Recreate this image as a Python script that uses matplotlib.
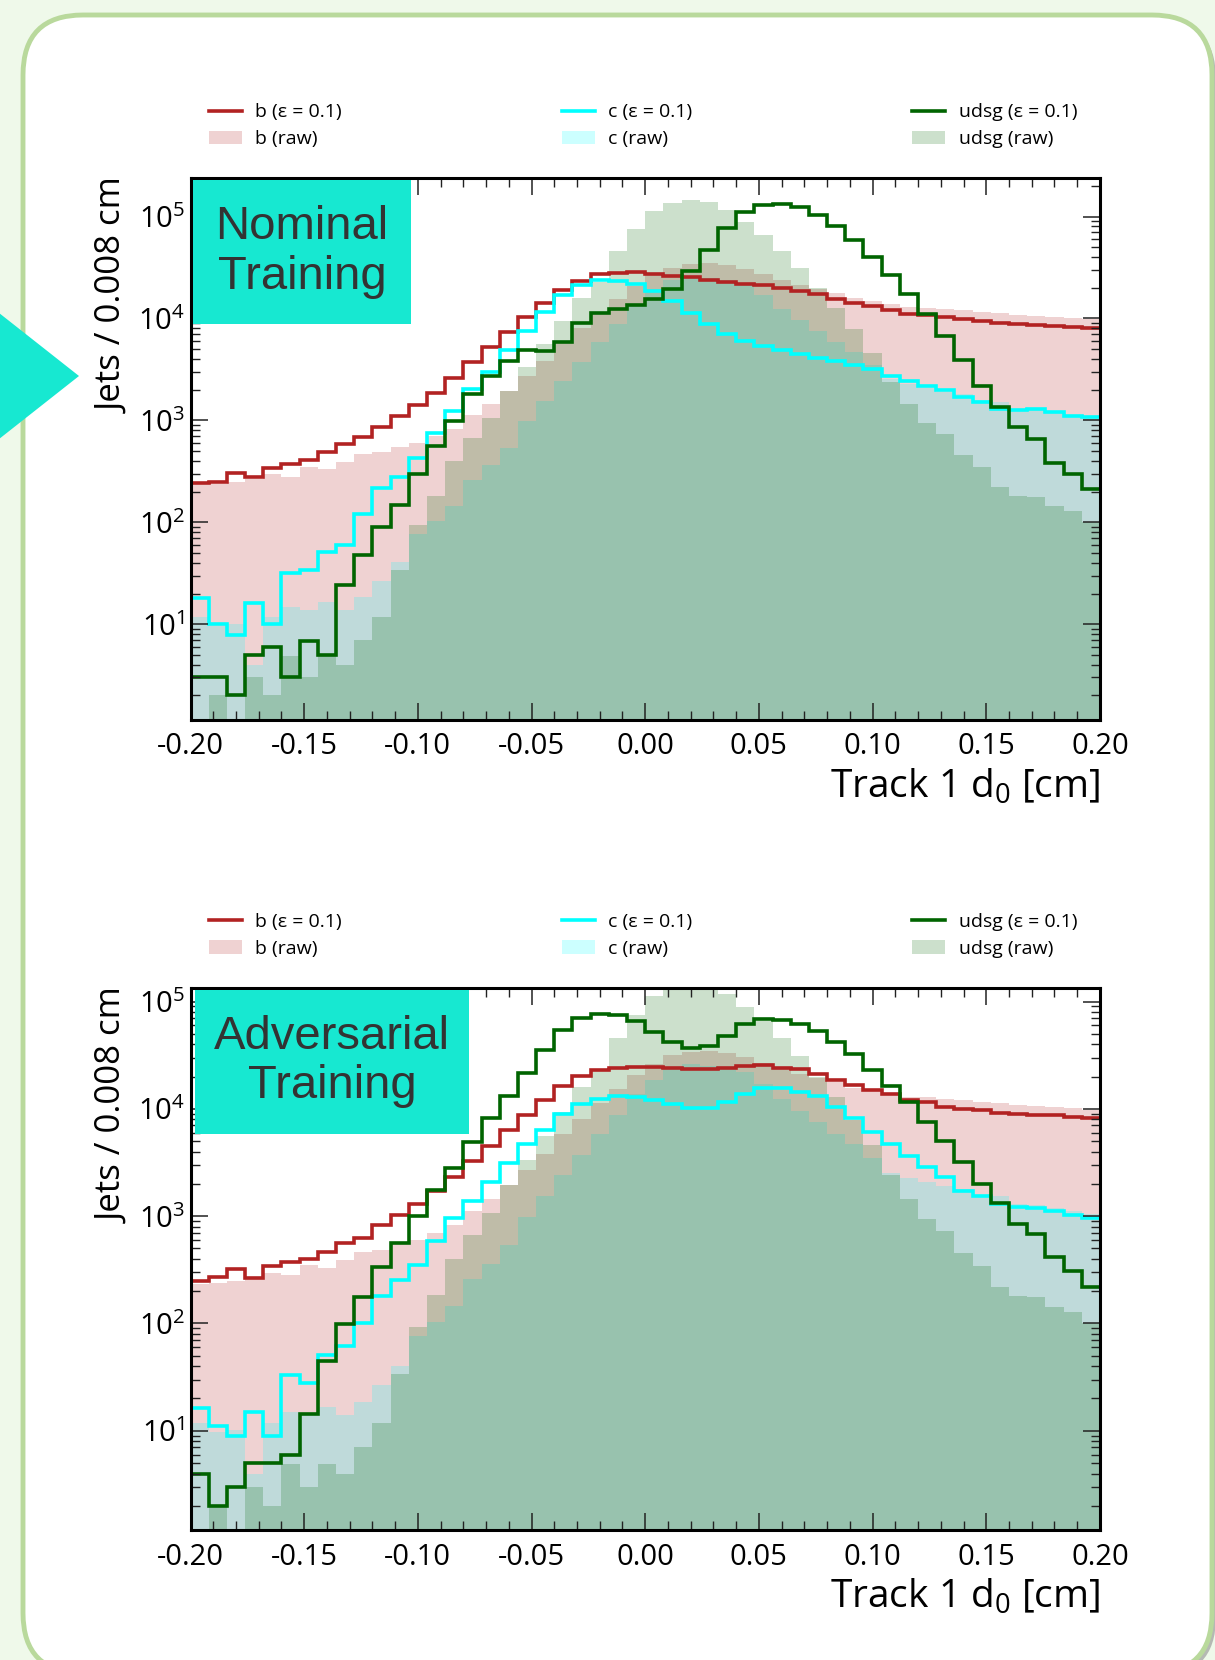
import numpy as np
import matplotlib
matplotlib.use("Agg")
import matplotlib.pyplot as plt
from matplotlib.patches import FancyBboxPatch, Polygon, Rectangle, Patch
from matplotlib.lines import Line2D
from matplotlib.ticker import MultipleLocator, FormatStrFormatter, LogLocator

plt.rcParams['font.family'] = ['Open Sans', 'DejaVu Sans']
plt.rcParams['axes.unicode_minus'] = False

# 50 bins of 0.008 cm between -0.2 and 0.2
bin_lo, bin_hi, n_bins = -0.2, 0.2, 50
edges = np.linspace(bin_lo, bin_hi, n_bins + 1)

# raw distributions (same sample in both panels)
raw_b = [235, 239, 251, 265, 295, 281, 352, 330, 388, 467,
         486, 546, 601, 700, 826, 1117, 1452, 1940, 2720, 3810,
         5770, 8100, 11400, 15400, 20700, 26400, 31400, 34100, 34700, 33100,
         30300, 27000, 23800, 21200, 19400, 17600, 15800, 14800, 13800, 13000,
         12800, 12400, 12100, 11600, 11300, 10900, 10600, 10400, 10200, 9770]
raw_c = [11.9, 9.7, 10.1, 4.0, 11.9, 14.9, 13.9, 16.6, 13.9, 18.5,
         26.6, 40.5, 76, 103, 144, 259, 361, 538, 984, 1546,
         2430, 3720, 5850, 8730, 13700, 18500, 24100, 26000, 25000, 24100,
         22000, 16900, 12300, 9640, 7550, 5830, 4730, 3510, 2540, 2290,
         2080, 1890, 1800, 1570, 1530, 1300, 1260, 1180, 1110, 1050]
raw_u = [0, 2.0, 0, 3.0, 2.0, 4.9, 3.0, 4.9, 4.0, 7.0,
         11.9, 33.9, 93, 183, 398, 673, 1059, 1940, 3350, 5560,
         9410, 15900, 22700, 45700, 74700, 113000, 136000, 144000, 138000, 117000,
         88000, 65200, 45400, 31000, 19900, 12800, 7870, 4580, 2400, 1445,
         942, 728, 456, 346, 220, 182, 177, 143, 128, 101]

# nominal training, eps = 0.1
nom_b = [245, 251, 304, 281, 338, 375, 407, 494, 581, 682,
         869, 1107, 1410, 1837, 2600, 3720, 5260, 7430, 10440, 14200,
         19100, 23400, 27000, 28200, 28400, 27500, 26000, 25400, 23800, 22800,
         21900, 21200, 19900, 18700, 17200, 15400, 14200, 13100, 12000, 11100,
         10900, 10300, 9800, 9480, 9030, 8880, 8600, 8460, 8330, 8060]
nom_c = [18.1, 10.1, 7.9, 16, 10.1, 31.8, 33.9, 51.5, 59.6, 121,
         217, 276, 430, 757, 1230, 2040, 2990, 4850, 7500, 11500,
         16900, 21200, 23800, 23400, 21900, 18500, 14800, 11400, 8880, 7080,
         6030, 5380, 4850, 4440, 4130, 3800, 3510, 3160, 2730, 2440,
         2160, 2000, 1680, 1530, 1300, 1260, 1280, 1200, 1110, 1070]
nom_u = [3, 3, 2, 4.96, 5.97, 3, 6.85, 4.96, 24.1, 47.6,
         90.7, 147, 299, 564, 982, 1795, 2715, 3810, 4890, 4780,
         5890, 9060, 11350, 12400, 13700, 15400, 19500, 29100, 46800, 76400,
         112000, 130600, 133700, 125400, 104000, 80400, 58700, 39800, 26800, 17400,
         11000, 6700, 3870, 2160, 1365, 855, 661, 381, 299, 212]

# adversarial training, eps = 0.1
adv_b = [249, 273, 324, 263, 344, 377, 395, 468, 566, 626,
         819, 1016, 1302, 1710, 2310, 3260, 4460, 6290, 8670, 11970,
         16180, 20050, 22800, 24100, 24500, 24500, 23900, 23600, 23600, 24100,
         24800, 25560, 24200, 23300, 21270, 18530, 16500, 14940, 13630, 12150,
         11520, 10420, 9880, 9650, 9150, 8940, 8740, 8740, 8470, 8280]
adv_c = [16.3, 11.1, 9.0, 14.9, 9.0, 33.2, 27.8, 51.4, 61.3, 101,
         182, 252, 347, 585, 964, 1380, 2075, 3120, 4660, 6370,
         8980, 11130, 12390, 13040, 12860, 11970, 10990, 10210, 10210, 11550,
         13800, 15640, 15640, 14490, 13120, 10420, 8280, 6100, 4730, 3650,
         2900, 2340, 1720, 1530, 1285, 1218, 1190, 1129, 1030, 968]
adv_u = [4.0, 2.0, 3.0, 5.0, 5.0, 6.0, 14.3, 45.1, 99, 175,
         335, 560, 993, 1758, 2820, 4890, 8240, 13050, 21500, 35500,
         53800, 70500, 76800, 74200, 65700, 51900, 41850, 36800, 38200, 47300,
         61900, 68200, 67100, 62200, 53300, 42400, 32200, 22960, 16380, 11520,
         7500, 5030, 3180, 1975, 1315, 850, 676, 417, 307, 221]

colors = {'b': '#b22222', 'c': '#00ffff', 'udsg': '#006400'}
box_color = '#17e8d1'

fig = plt.figure(figsize=(12.15, 16.6), dpi=100)
fig.patch.set_facecolor('#eff9ea')

# background panel + arrow, in pixel units
bg = fig.add_axes([0, 0, 1, 1])
bg.set_xlim(0, 1215)
bg.set_ylim(1660, 0)
bg.axis('off')
bg.add_patch(FancyBboxPatch((27, 19), 1189, 1658, boxstyle='round,pad=0,rounding_size=60',
                            fc='#8f8f8f', ec='none', alpha=0.6))
bg.add_patch(FancyBboxPatch((23, 15), 1189, 1658, boxstyle='round,pad=0,rounding_size=60',
                            fc='white', ec='#b9d99c', lw=3.5))
bg.add_patch(Polygon([(-6, 309), (79, 376), (-6, 443)], closed=True, fc=box_color, ec='none'))


def draw_panel(rect, b_eps, c_eps, u_eps, ylim, title):
    ax = fig.add_axes(rect)
    ax.set_facecolor('white')
    floor = 1e-2
    for vals, key in [(raw_b, 'b'), (raw_c, 'c'), (raw_u, 'udsg')]:
        ax.stairs(np.maximum(vals, floor), edges, baseline=floor, fill=True,
                  color=colors[key], alpha=0.2, lw=0)
    for vals, key in [(b_eps, 'b'), (c_eps, 'c'), (u_eps, 'udsg')]:
        ax.stairs(vals, edges, baseline=None, color=colors[key], lw=2.6)

    ax.set_yscale('log')
    ax.set_xlim(bin_lo, bin_hi)
    ax.set_ylim(*ylim)
    ax.xaxis.set_major_locator(MultipleLocator(0.05))
    ax.xaxis.set_minor_locator(MultipleLocator(0.01))
    ax.xaxis.set_major_formatter(FormatStrFormatter('%.2f'))
    ax.yaxis.set_major_locator(LogLocator(base=10, numticks=10))
    ax.yaxis.set_minor_locator(LogLocator(base=10, subs=np.arange(2, 10), numticks=10))
    ax.tick_params(which='both', direction='in', top=True, right=True, colors='#222222')
    ax.tick_params(which='major', length=12.5, width=1.1, labelsize=21, labelcolor='black')
    ax.tick_params(which='minor', length=6.5, width=1.0)
    ax.tick_params(axis='x', which='major', pad=9)
    ax.tick_params(axis='y', which='major', pad=4)
    for s in ax.spines.values():
        s.set_linewidth(2.2)
        s.set_color('black')

    ax.set_xlabel('Track 1 d$\\mathregular{_0}$ [cm]', loc='right', fontsize=28, labelpad=4)
    ax.set_ylabel('Jets / 0.008 cm', loc='top', fontsize=25)
    ax.yaxis.set_label_coords(-0.066, 1.0)

    handles = []
    labels = []
    for key in ['b', 'c', 'udsg']:
        handles.append(Line2D([], [], color=colors[key], lw=2.6))
        labels.append(key + ' (\u03b5 = 0.1)')
        handles.append(Patch(facecolor=colors[key], alpha=0.2, lw=0))
        labels.append(key + ' (raw)')
    ax.legend(handles, labels, ncol=3, loc='lower left', bbox_to_anchor=(0.02, 1.055, 0.955, 0.1),
              mode='expand', frameon=False, fontsize=14, handlelength=1.7, handletextpad=0.7,
              labelspacing=0.45, borderaxespad=0, borderpad=0)

    bx0, bw = title[1], title[2]
    ax.add_patch(Rectangle((bx0, 0.7306), bw, 0.2657, transform=ax.transAxes,
                           fc=box_color, ec='none', zorder=6))
    ax.text(bx0 + bw / 2, 0.7306 + 0.2657 / 2, title[0], transform=ax.transAxes,
            ha='center', va='center', ma='center', fontsize=34, color='#333333',
            family=['Liberation Sans', 'DejaVu Sans'], linespacing=1.15, zorder=7)
    return ax


draw_panel([0.1568, 0.5663, 0.7485, 0.3265], nom_b, nom_c, nom_u, (1.15, 2.39e5),
           ('Nominal\nTraining', 0.0024, 0.240))
draw_panel([0.1568, 0.0783, 0.7485, 0.3266], adv_b, adv_c, adv_u, (1.19, 1.34e5),
           ('Adversarial\nTraining', 0.005, 0.301))

fig.savefig('out.png', dpi=100, facecolor=fig.get_facecolor())
